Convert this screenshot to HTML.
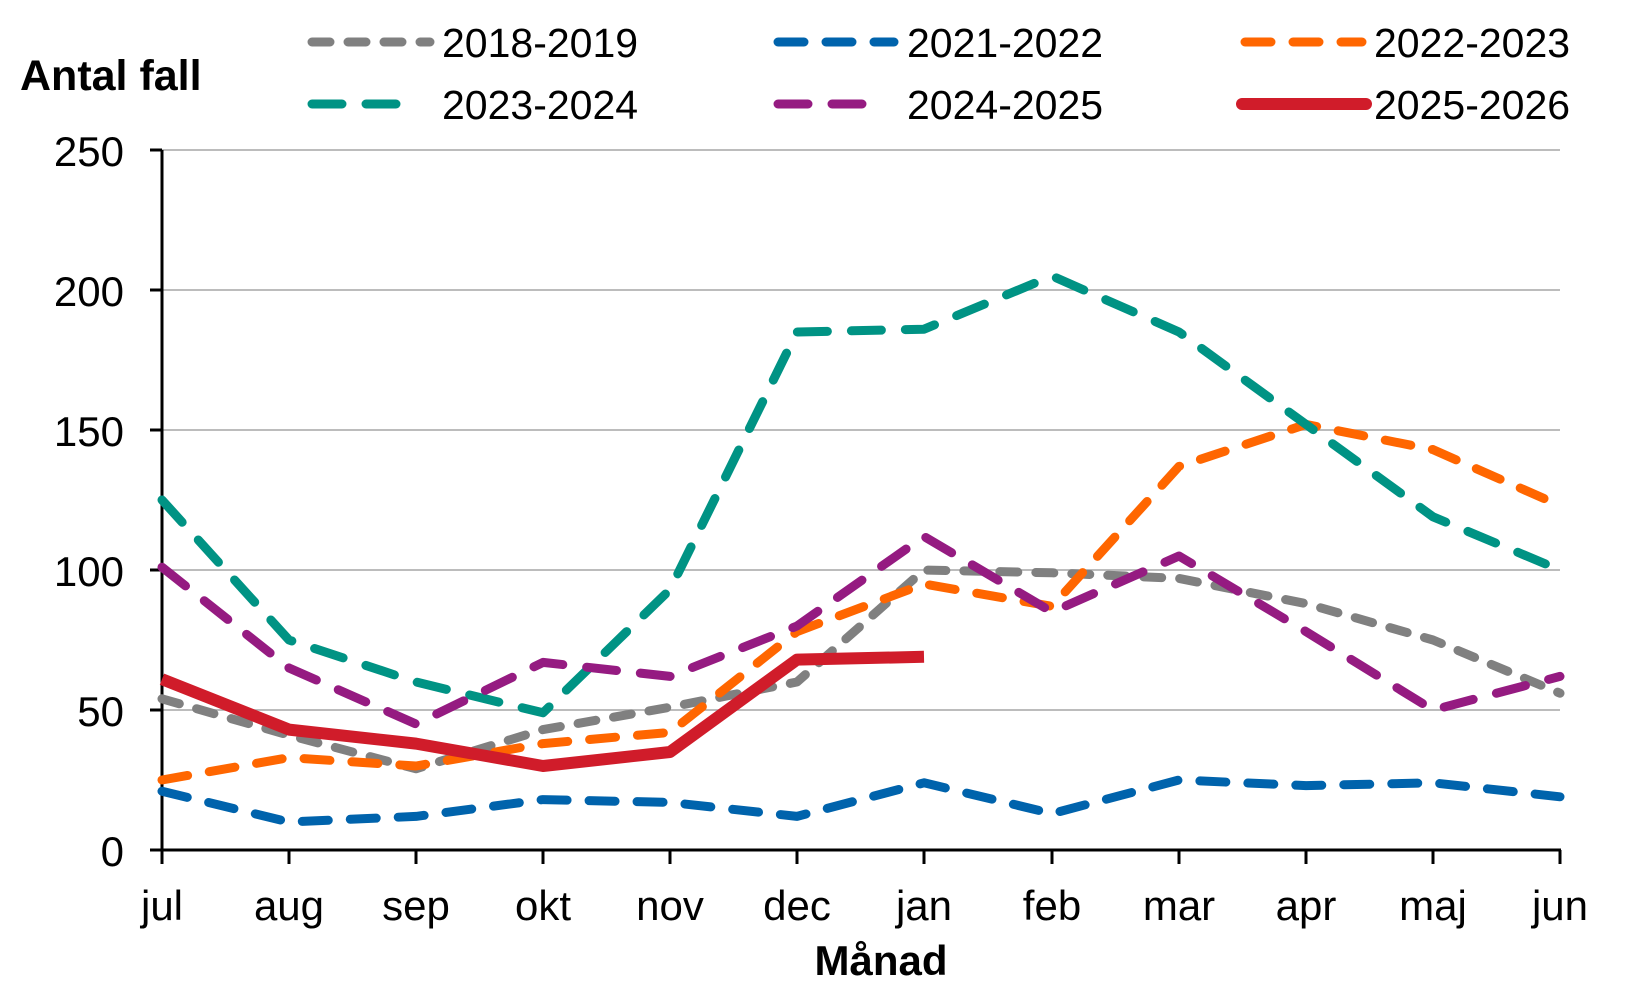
<!DOCTYPE html>
<html><head><meta charset="utf-8"><style>body{margin:0;background:#fff}svg{display:block}text{font-family:"Liberation Sans","DejaVu Sans",sans-serif;fill:#000}</style></head><body>
<svg width="1650" height="990" viewBox="0 0 1650 990" xmlns="http://www.w3.org/2000/svg">
<g stroke="#a6a6a6" stroke-width="1.5">
<line x1="162" y1="150" x2="1560" y2="150"/><line x1="162" y1="290" x2="1560" y2="290"/><line x1="162" y1="430" x2="1560" y2="430"/><line x1="162" y1="570" x2="1560" y2="570"/><line x1="162" y1="710" x2="1560" y2="710"/>
</g>
<g stroke="#000" stroke-width="3" fill="none">
<line x1="162" y1="150" x2="162" y2="851"/><line x1="150" y1="850" x2="1561" y2="850"/>
<line x1="150" y1="150" x2="162" y2="150"/><line x1="150" y1="290" x2="162" y2="290"/><line x1="150" y1="430" x2="162" y2="430"/><line x1="150" y1="570" x2="162" y2="570"/><line x1="150" y1="710" x2="162" y2="710"/>
<path d="M162 850v14M289 850v14M416 850v14M543 850v14M670 850v14M797 850v14M924 850v14M1052 850v14M1179 850v14M1306 850v14M1433 850v14M1560 850v14"/>
</g>
<g font-size="42" text-anchor="end">
<text x="124" y="166">250</text><text x="124" y="306">200</text><text x="124" y="446">150</text><text x="124" y="586">100</text><text x="124" y="726">50</text><text x="124" y="866">0</text>
</g>
<g font-size="42" text-anchor="middle">
<text x="162" y="920">jul</text><text x="289" y="920">aug</text><text x="416" y="920">sep</text><text x="543" y="920">okt</text><text x="670" y="920">nov</text><text x="797" y="920">dec</text><text x="924" y="920">jan</text><text x="1052" y="920">feb</text><text x="1179" y="920">mar</text><text x="1306" y="920">apr</text><text x="1433" y="920">maj</text><text x="1560" y="920">jun</text>
</g>
<text x="881" y="975" font-size="42" font-weight="bold" text-anchor="middle">Månad</text>
<text x="20" y="90" font-size="43" font-weight="bold">Antal fall</text>
<g fill="none" stroke-linecap="round" stroke-linejoin="round" stroke-width="9">
<polyline stroke="#808080" stroke-dasharray="18 18" points="162,698.8 289,735.2 416,768.8 543,729.6 670,707.2 797,682 924,570 1052,572.8 1179,578.4 1306,603.6 1433,640 1560,693.2"/>
<polyline stroke="#0063ac" stroke-dasharray="26 22" points="162,791.2 289,822 416,816.4 543,799.6 670,802.4 797,816.4 924,782.8 1052,813.6 1179,780 1306,785.6 1433,782.8 1560,796.8"/>
<polyline stroke="#ff6600" stroke-dasharray="26 22" points="162,780 289,757.6 416,766 543,743.6 670,732.4 797,631.6 924,584 1052,606.4 1179,466.4 1306,424.4 1433,449.6 1560,505.6"/>
<polyline stroke="#009384" stroke-dasharray="30 24" points="162,500 289,640 416,682 543,712.8 670,589.6 797,332 924,329.2 1052,276 1179,332 1306,424.4 1433,516.8 1560,570"/>
<polyline stroke="#951b81" stroke-dasharray="30 24" points="162,567.2 289,668 416,724 543,662.4 670,676.4 797,626 924,536.4 1052,612 1179,556 1306,631.6 1433,710 1560,676.4"/>
<polyline stroke="#d01c2a" stroke-width="12" stroke-linecap="butt" points="162,679.2 289,729.6 416,743.6 543,766 670,752 797,659.6 924,656.8"/>
<line x1="312" y1="42" x2="430" y2="42" stroke="#808080" stroke-dasharray="18 18"/>
<line x1="778" y1="42" x2="894" y2="42" stroke="#0063ac" stroke-dasharray="26 22"/>
<line x1="1245" y1="42" x2="1362" y2="42" stroke="#ff6600" stroke-dasharray="26 22"/>
<line x1="312" y1="104" x2="418" y2="104" stroke="#009384" stroke-dasharray="30 24"/>
<line x1="778" y1="104" x2="884" y2="104" stroke="#951b81" stroke-dasharray="30 24"/>
<line x1="1242" y1="104" x2="1366" y2="104" stroke="#d01c2a" stroke-width="12"/>
</g>
<g font-size="41">
<text x="442" y="57">2018-2019</text><text x="907" y="57">2021-2022</text><text x="1374" y="57">2022-2023</text>
<text x="442" y="119">2023-2024</text><text x="907" y="119">2024-2025</text><text x="1374" y="119">2025-2026</text>
</g>
</svg>
</body></html>
